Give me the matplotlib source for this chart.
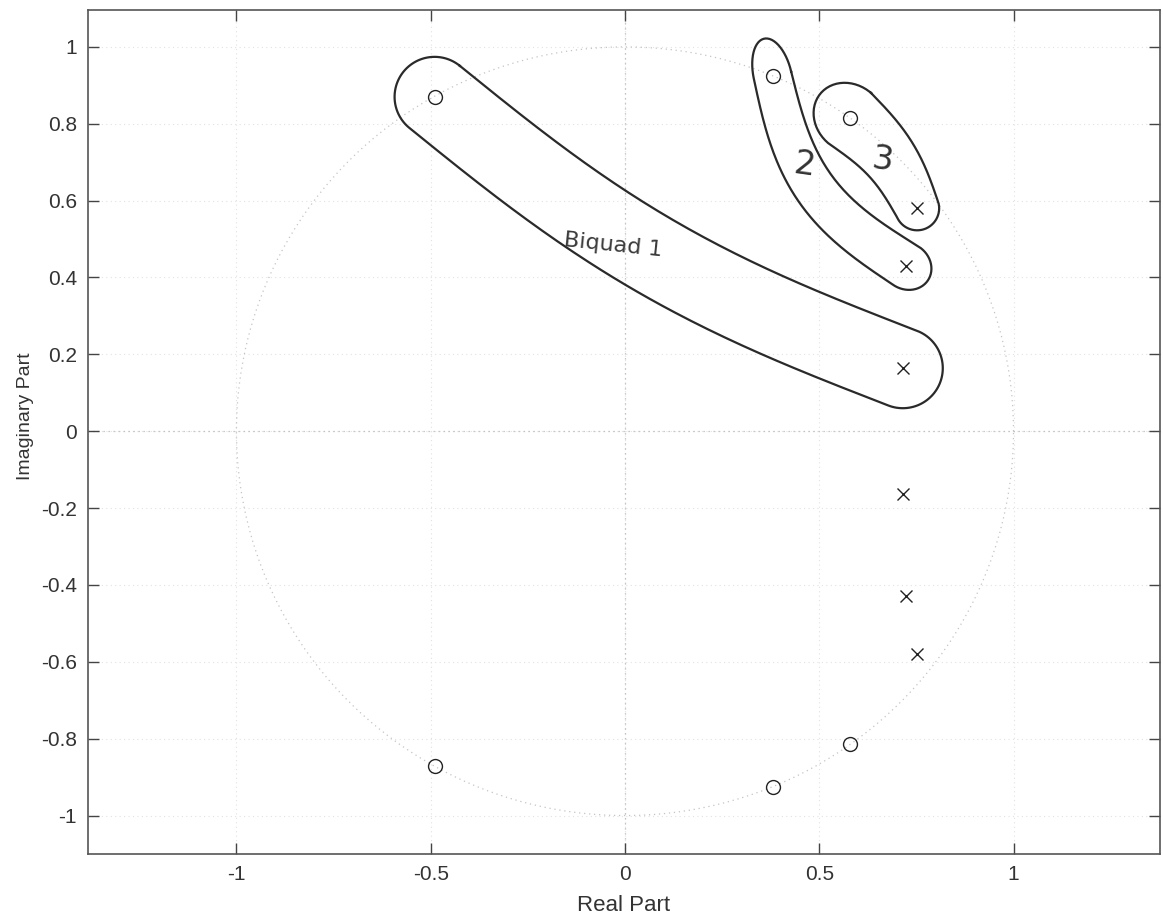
import numpy as np
import matplotlib.pyplot as plt

# zeros (o) and poles (x)
zeros_re = [-0.49, 0.38, 0.578, -0.49, 0.38, 0.578]
zeros_im = [0.87, 0.925, 0.815, -0.87, -0.925, -0.815]
poles_re = [0.752, 0.724, 0.715, 0.715, 0.724, 0.752]
poles_im = [0.58, 0.43, 0.164, -0.164, -0.43, -0.58]

xticks = [-1, -0.5, 0, 0.5, 1]
yticks = [-1, -0.8, -0.6, -0.4, -0.2, 0, 0.2, 0.4, 0.6, 0.8, 1]

plt.rcParams['font.family'] = ['Liberation Sans', 'DejaVu Sans']

fig = plt.figure(figsize=(11.63, 9.19), dpi=100)
ax = fig.add_axes([88 / 1163, 65 / 919, 1072 / 1163, 844 / 919])
ax.set_xlim(-1.382, 1.377)
ax.set_ylim(-1.10, 1.096)

# faint grid
for xv in xticks:
    ax.axvline(xv, color='#e2e2e2', lw=0.8, ls=(0, (1, 3)), zorder=0)
for yv in yticks:
    ax.axhline(yv, color='#e2e2e2', lw=0.8, ls=(0, (1, 3)), zorder=0)
ax.axvline(0, color='#b8b8b8', lw=0.9, ls=(0, (1, 3)), zorder=1)
ax.axhline(0, color='#b8b8b8', lw=0.9, ls=(0, (1, 3)), zorder=1)

th = np.linspace(0, 2 * np.pi, 400)
ax.plot(np.cos(th), np.sin(th), color='#c4c4c4', lw=0.9, ls=(0, (1, 3)), zorder=1)

ax.plot(zeros_re, zeros_im, 'o', mfc='none', mec='#222222', ms=10, mew=1.0, zorder=3)
ax.plot(poles_re, poles_im, 'x', color='#222222', ms=8.5, mew=1.0, zorder=3)


def loop(p0, p1, w0, w1, ext0, ext1, bend):
    # closed hand-drawn style outline around a zero/pole pair, built in pixel space
    a = ax.transData.transform(p0)
    b = ax.transData.transform(p1)
    d = b - a
    L = np.hypot(*d)
    d = d / L
    n = np.array([-d[1], d[0]])

    u = np.linspace(0, 1, 120)
    c = a + np.outer(u * L, d) - np.outer(bend * np.sin(np.pi * u), n)
    tan = np.outer(np.full_like(u, L), d) - np.outer(bend * np.pi * np.cos(np.pi * u), n)
    tan = tan / np.hypot(tan[:, 0], tan[:, 1])[:, None]
    nor = np.column_stack([-tan[:, 1], tan[:, 0]])
    w = (w0 + (w1 - w0) * u)[:, None]

    upper = c + w * nor
    lower = c - w * nor
    t = np.linspace(np.pi / 2, -np.pi / 2, 60)
    cap1 = c[-1] + np.outer(ext1 * np.cos(t), tan[-1]) + np.outer(w1 * np.sin(t), nor[-1])
    t0 = np.linspace(-np.pi / 2, -3 * np.pi / 2, 60)
    cap0 = c[0] + np.outer(ext0 * np.cos(t0), tan[0]) + np.outer(w0 * np.sin(t0), nor[0])
    out = np.vstack([upper, cap1, lower[::-1], cap0, upper[:1]])
    return ax.transData.inverted().transform(out)


shapes = [
    loop((zeros_re[0], zeros_im[0]), (poles_re[2], poles_im[2]), 40, 40, 40, 40, 27),
    loop((zeros_re[1], zeros_im[1]), (poles_re[1], poles_im[1]), 19, 23, 38, 26, 30),
    loop((zeros_re[2], zeros_im[2]), (poles_re[0], poles_im[0]), 33, 22, 38, 22, -8),
]
for sh in shapes:
    ax.plot(sh[:, 0], sh[:, 1], color='#2a2a2a', lw=1.6, zorder=4)

ax.text(-0.03, 0.485, "Biquad 1", fontsize=16, rotation=-6, ha='center', va='center',
        color='#3a3a3a', family=['DejaVu Sans'])
ax.text(0.463, 0.693, "2", fontsize=24, rotation=-8, ha='center', va='center',
        color='#333333', family=['DejaVu Sans'])
ax.text(0.662, 0.706, "3", fontsize=24, rotation=-8, ha='center', va='center',
        color='#333333', family=['DejaVu Sans'])

ax.set_xticks(xticks)
ax.set_xticklabels(['-1', '-0.5', '0', '0.5', '1'])
ax.set_yticks(yticks)
ax.set_yticklabels(['-1', '-0.8', '-0.6', '-0.4', '-0.2', '0', '0.2', '0.4', '0.6', '0.8', '1'])
ax.tick_params(direction='in', length=8, width=1, colors='#444444', labelsize=15,
               top=True, right=True, labelcolor='#333333', pad=8)
for sp in ax.spines.values():
    sp.set_color('#555555')
    sp.set_linewidth(1.2)

ax.set_xlabel('Real Part', fontsize=16, color='#333333')
ax.set_ylabel('Imaginary Part', fontsize=14, color='#333333')
ax.xaxis.set_label_coords(0.5, -0.048)
ax.yaxis.set_label_coords(-0.050, 0.519)

fig.savefig('out.png', dpi=100)
